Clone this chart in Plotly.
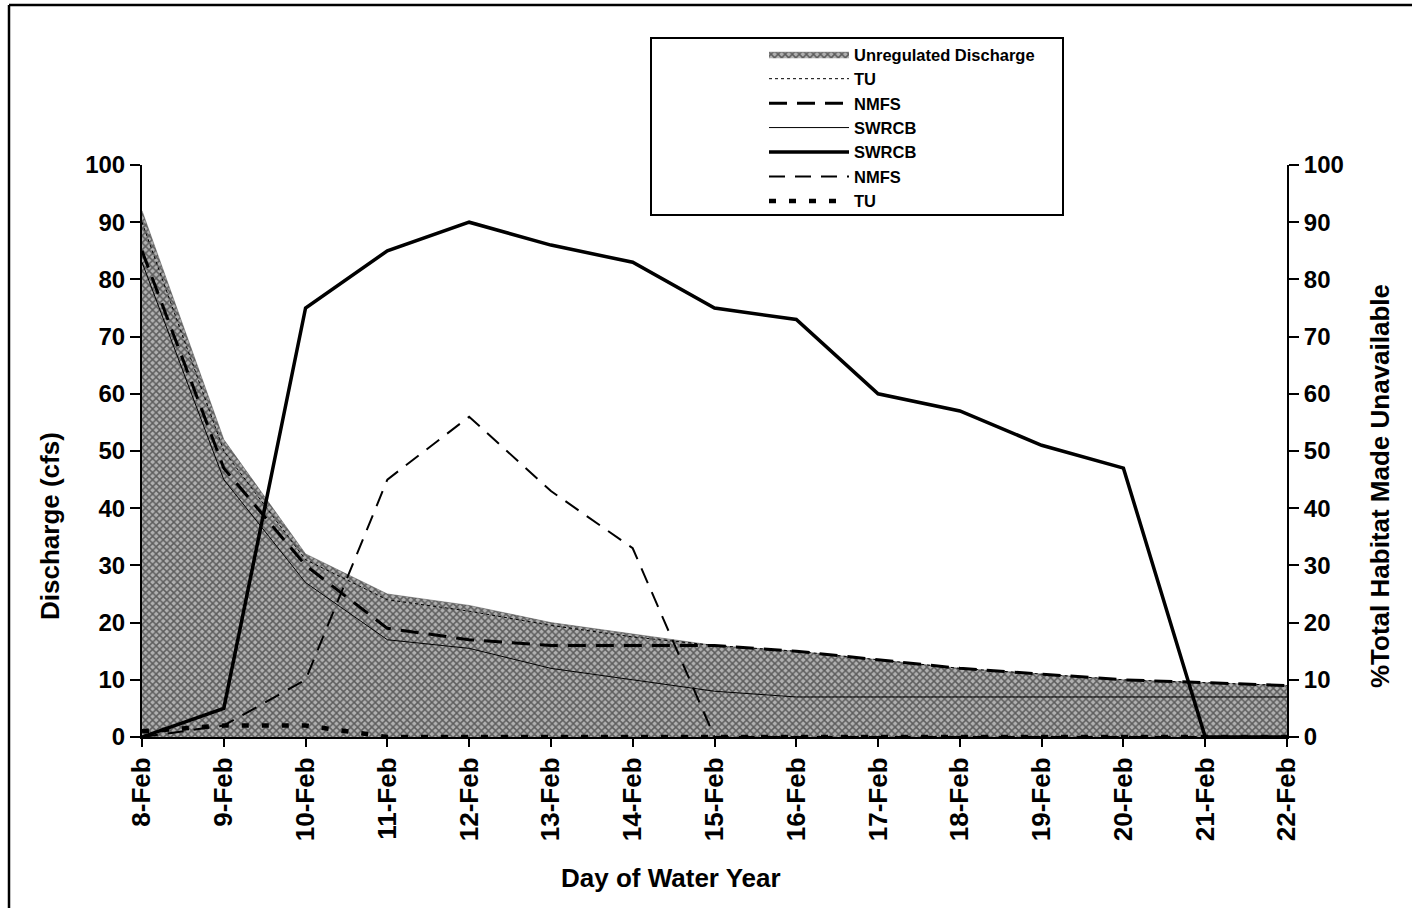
import plotly.graph_objects as go

days = ["8-Feb", "9-Feb", "10-Feb", "11-Feb", "12-Feb", "13-Feb", "14-Feb", "15-Feb",
        "16-Feb", "17-Feb", "18-Feb", "19-Feb", "20-Feb", "21-Feb", "22-Feb"]
x = list(range(len(days)))

# Discharge (cfs) - left axis
unregulated = [92, 52, 32, 25, 23, 20, 18, 16, 15, 13.5, 12, 11, 10, 9.5, 9]
tu_q = [90, 50, 31, 24, 22, 19.5, 17.5, 16, 15, 13.5, 12, 11, 10, 9.5, 9]
nmfs_q = [85, 47, 30, 19, 17, 16, 16, 16, 15, 13.5, 12, 11, 10, 9.5, 9]
swrcb_q = [83, 45, 27, 17, 15.5, 12, 10, 8, 7, 7, 7, 7, 7, 7, 7]

# % Total habitat made unavailable - right axis
swrcb_pct = [0, 5, 75, 85, 90, 86, 83, 75, 73, 60, 57, 51, 47, 0, 0]
nmfs_pct = [0, 2, 10, 45, 56, 43, 33, 0, 0, 0, 0, 0, 0, 0, 0]
tu_pct = [1, 2, 2, 0, 0, 0, 0, 0, 0, 0, 0, 0, 0, 0, 0]

FONT = "Liberation Sans"

fig = go.Figure()
fig.add_trace(go.Scatter(x=x, y=unregulated, name="<b>Unregulated Discharge</b>", mode="lines",
                         line=dict(color="#444", width=0.5), fill="tozeroy",
                         fillcolor="#999999",
                         fillpattern=dict(shape="x", fgcolor="#0a0a0a", bgcolor="#b0b0b0",
                                          size=5, solidity=0.5)))
fig.add_trace(go.Scatter(x=x, y=tu_q, name="<b>TU</b>", mode="lines",
                         line=dict(color="black", width=1, dash="dot")))
fig.add_trace(go.Scatter(x=x, y=nmfs_q, name="<b>NMFS</b>", mode="lines",
                         line=dict(color="black", width=3, dash="18px,10px")))
fig.add_trace(go.Scatter(x=x, y=swrcb_q, name="<b>SWRCB</b>", mode="lines",
                         line=dict(color="black", width=1)))
fig.add_trace(go.Scatter(x=x, y=swrcb_pct, name="<b>SWRCB</b>", mode="lines", yaxis="y2",
                         line=dict(color="black", width=3.5)))
fig.add_trace(go.Scatter(x=x, y=nmfs_pct, name="<b>NMFS</b>", mode="lines", yaxis="y2",
                         line=dict(color="black", width=2, dash="16px,10px")))
fig.add_trace(go.Scatter(x=x, y=tu_pct, name="<b>TU</b>", mode="lines", yaxis="y2",
                         line=dict(color="black", width=4.5, dash="7px,13px")))

W, H = 1412, 908
L, R, T, B = 142, 125, 165, 171
pw, ph = W - L - R, H - T - B

def px(xp):
    return (xp - L) / pw

def py(yp):
    return (H - B - yp) / ph

TICKFONT = dict(family=FONT, size=24, color="black")
TITLEFONT = dict(family=FONT, size=26, color="black")

fig.update_layout(
    width=W, height=H,
    margin=dict(l=L, r=R, t=T, b=B),
    paper_bgcolor="white", plot_bgcolor="white",
    font=dict(family=FONT, color="black"),
    showlegend=True,
    legend=dict(x=px(764), y=py(37), xanchor="left", yanchor="top",
                bgcolor="rgba(0,0,0,0)", borderwidth=0,
                font=dict(family=FONT, size=16.5, color="black"),
                itemwidth=80, tracegroupgap=0),
    xaxis=dict(range=[0, 14], tickvals=x, ticktext=["<b>%s</b>" % d for d in days],
               tickangle=-90,
               showgrid=False, zeroline=False, showline=True, linecolor="black",
               linewidth=2, ticks="outside", ticklen=8, tickwidth=2, tickcolor="black",
               tickfont=dict(family=FONT, size=26, color="black")),
    yaxis=dict(range=[0, 100], dtick=10, showgrid=False, zeroline=False,
               showline=True, linecolor="black", linewidth=2,
               ticks="outside", ticklen=10, tickwidth=2, tickcolor="black",
               tickprefix="<b>", ticksuffix="</b>", tickfont=TICKFONT),
    yaxis2=dict(range=[0, 100], dtick=10, overlaying="y", side="right",
                showgrid=False, zeroline=False, showline=True, linecolor="black",
                linewidth=2, ticks="outside", ticklen=10, tickwidth=2, tickcolor="black",
                tickprefix="<b>", ticksuffix="</b>", tickfont=TICKFONT),
    annotations=[
        dict(text="<b>Discharge (cfs)</b>", xref="paper", yref="paper",
             x=px(50), y=py(526), textangle=-90, showarrow=False, font=TITLEFONT,
             xanchor="center", yanchor="middle"),
        dict(text="<b>%Total Habitat Made Unavailable</b>", xref="paper", yref="paper",
             x=px(1380), y=py(486), textangle=-90, showarrow=False, font=TITLEFONT,
             xanchor="center", yanchor="middle"),
        dict(text="<b>Day of Water Year</b>", xref="paper", yref="paper",
             x=px(671), y=py(878), showarrow=False, font=TITLEFONT,
             xanchor="center", yanchor="middle"),
    ],
    shapes=[
        dict(type="rect", xref="paper", yref="paper", x0=px(651), x1=px(1063),
             y0=py(215), y1=py(38), line=dict(color="black", width=2),
             fillcolor="rgba(0,0,0,0)", layer="below"),
        dict(type="line", xref="paper", yref="paper", x0=px(9), x1=px(1412),
             y0=py(5), y1=py(5), line=dict(color="black", width=2.5)),
        dict(type="line", xref="paper", yref="paper", x0=px(9), x1=px(9),
             y0=py(5), y1=py(908), line=dict(color="black", width=2.5)),
    ],
)

fig.write_html("out.html", config={"displayModeBar": False},
               post_script="document.body.style.margin='0';")
